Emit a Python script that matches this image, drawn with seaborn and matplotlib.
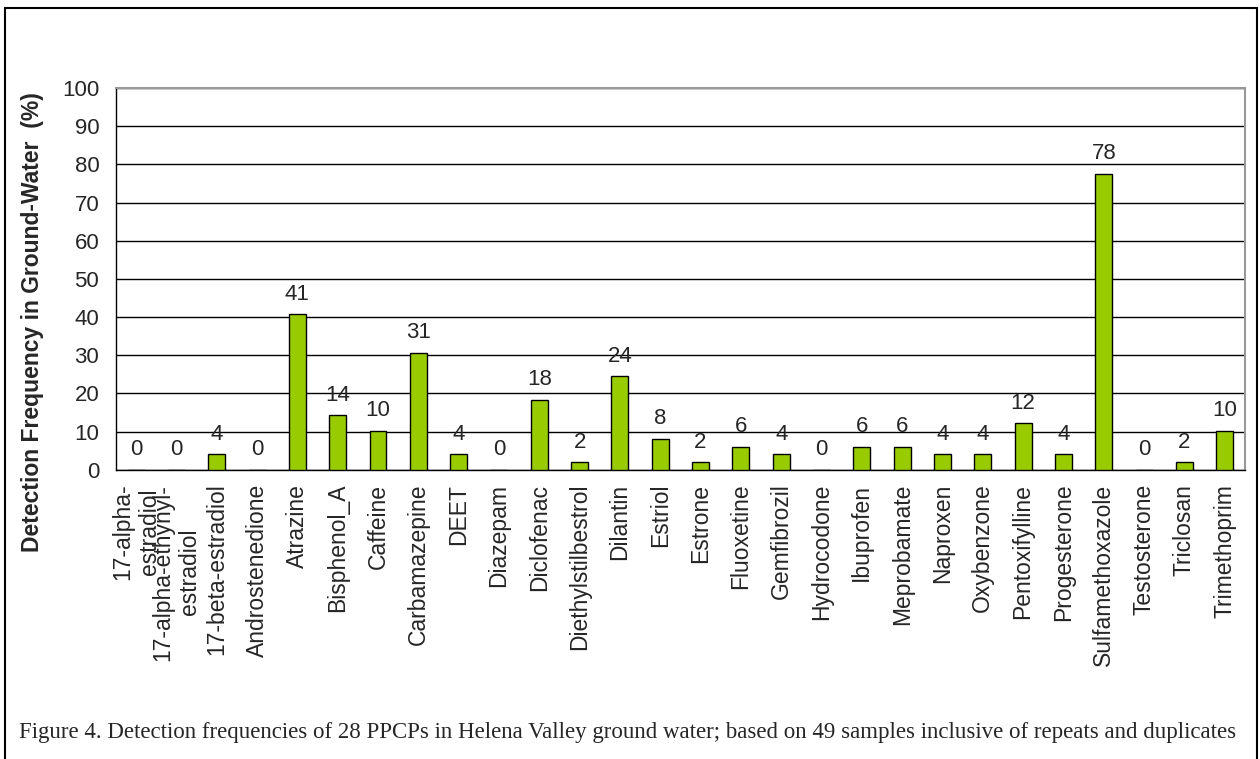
import numpy as np
import pandas as pd
import matplotlib
matplotlib.use('Agg')
import matplotlib.pyplot as plt
from matplotlib.patches import Rectangle
import seaborn as sns

# 검출 빈도 데이터 (%)
compounds = ['17-alpha-\nestradiol', '17-alpha-ethynyl-\nestradiol', '17-beta-estradiol',
             'Androstenedione', 'Atrazine', 'Bisphenol_A', 'Caffeine', 'Carbamazepine',
             'DEET', 'Diazepam', 'Diclofenac', 'Diethylstilbestrol', 'Dilantin', 'Estriol',
             'Estrone', 'Fluoxetine', 'Gemfibrozil', 'Hydrocodone', 'Ibuprofen',
             'Meprobamate', 'Naproxen', 'Oxybenzone', 'Pentoxifylline', 'Progesterone',
             'Sulfamethoxazole', 'Testosterone', 'Triclosan', 'Trimethoprim']
frequency = [0, 0, 4.1, 0, 40.8, 14.3, 10.2, 30.6, 4.1, 0, 18.4, 2.0, 24.5, 8.2,
             2.0, 6.1, 4.1, 0, 6.1, 6.1, 4.1, 4.1, 12.2, 4.1, 77.6, 0, 2.0, 10.2]
bar_labels = [0, 0, 4, 0, 41, 14, 10, 31, 4, 0, 18, 2, 24, 8,
              2, 6, 4, 0, 6, 6, 4, 4, 12, 4, 78, 0, 2, 10]

df = pd.DataFrame({'compound': compounds, 'freq': frequency})

sns.set_style('white')
plt.rcParams['font.family'] = ['Liberation Sans', 'DejaVu Sans']

fig = plt.figure(figsize=(12.6, 7.59), dpi=100)
ax = fig.add_axes([0.092, 0.381, 0.896, 0.503])

sns.barplot(data=df, x='compound', y='freq', color='#99CC00', saturation=1,
            edgecolor='black', linewidth=1, width=0.42, ax=ax, zorder=3)

ax.set_ylim(0, 100)
ax.set_xlim(-0.5, len(compounds) - 0.5)
ax.set_yticks(np.arange(0, 101, 10))
ax.yaxis.grid(True, color='black', linewidth=1)
ax.set_axisbelow(True)

# 값 라벨
for i, (v, lab) in enumerate(zip(frequency, bar_labels)):
    ax.text(i, v + 2.5, str(lab), ha='center', va='bottom', fontsize=16)

# x축 눈금: 구간 경계에 표시
ax.set_xticks(np.arange(len(compounds)))
ax.set_xticklabels(compounds, rotation=90, fontsize=16.5, multialignment='center')
ax.set_xticks(np.arange(-0.5, len(compounds)), minor=True)
ax.tick_params(axis='x', which='major', length=0, pad=10)
ax.tick_params(axis='x', which='minor', length=7, width=1, color='black', direction='out')
ax.tick_params(axis='y', labelsize=16, length=6, width=1, color='black', direction='out', pad=6)
ax.set_xlabel('')
ax.set_ylabel('')

for side in ['left', 'bottom']:
    ax.spines[side].set_color('black')
    ax.spines[side].set_linewidth(1)
for side in ['top', 'right']:
    ax.spines[side].set_color('#999999')
    ax.spines[side].set_linewidth(1.5)

# y축 제목 (축 중앙보다 아래쪽에 위치)
fig.text(33 / 1260, 1 - 322 / 759, 'Detection Frequency in Ground-Water  (%)',
         rotation=90, ha='center', va='center', fontsize=16.5, fontweight='bold')

# 그림 전체 테두리와 캡션
fig.patches.append(Rectangle((5 / 1260, -0.01), 1252 / 1260, 1 - 8 / 759 + 0.01,
                             transform=fig.transFigure, fill=False,
                             edgecolor='black', linewidth=1.5))
fig.text(628 / 1260, 1 - 738 / 759,
         'Figure 4. Detection frequencies of 28 PPCPs in Helena Valley ground water; '
         'based on 49 samples inclusive of repeats and duplicates',
         ha='center', va='baseline', fontsize=16.5, family='Liberation Serif')

fig.savefig('out.png', dpi=100)
